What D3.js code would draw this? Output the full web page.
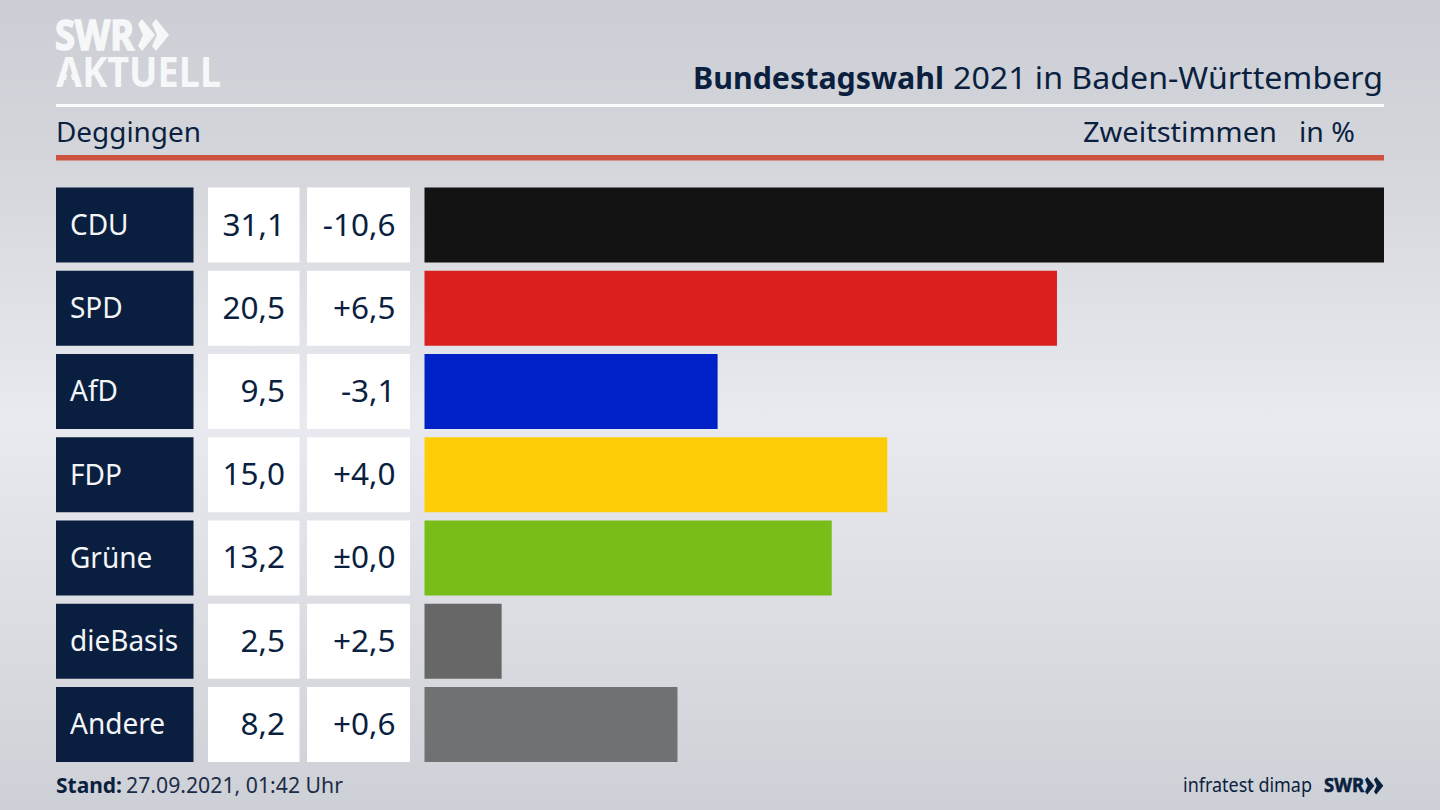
<!DOCTYPE html>
<html>
<head>
<meta charset="utf-8">
<script src="https://cdn.jsdelivr.net/npm/d3@7"></script>
<style>
  html, body { margin: 0; padding: 0; background: #d5d7dd; }
  svg { display: block; }
  text { font-family: "Noto Sans", sans-serif; }
</style>
</head>
<body>
<div id="chart"></div>
<script>
const parties = ["CDU", "SPD", "AfD", "FDP", "Grüne", "dieBasis", "Andere"];
const shares = [31.1, 20.5, 9.5, 15.0, 13.2, 2.5, 8.2];
const changes = ["-10,6", "+6,5", "-3,1", "+4,0", "±0,0", "+2,5", "+0,6"];
const barColors = ["#131313", "#da201f", "#0121c8", "#ffcd08", "#79bd19", "#676767", "#707172"];

const width = 1440, height = 810;
const navy = "#0b1f3f";
const format = d => d.toFixed(1).replace(".", ",");

const svg = d3.select("#chart").append("svg")
    .attr("width", width)
    .attr("height", height)
    .attr("viewBox", [0, 0, width, height]);

// background, lighter in a band across the middle
const grad = svg.append("defs").append("linearGradient")
    .attr("id", "bg")
    .attr("gradientUnits", "userSpaceOnUse")
    .attr("x1", 0).attr("y1", 0).attr("x2", 0).attr("y2", height);
grad.append("stop").attr("offset", "0").attr("stop-color", "#cbced4");
grad.append("stop").attr("offset", "0.2").attr("stop-color", "#d4d6dc");
grad.append("stop").attr("offset", "0.52").attr("stop-color", "#e9eaef");
grad.append("stop").attr("offset", "0.8").attr("stop-color", "#d9dbe0");
grad.append("stop").attr("offset", "1").attr("stop-color", "#cdd0d6");
svg.append("rect").attr("width", width).attr("height", height).attr("fill", "url(#bg)");

const y = d3.scaleBand(parties, [187.5, 762]).paddingInner(0.099);
const x = d3.scaleLinear([0, 31.1], [424.5, 1384]);

// squeeze a text to a share of its natural width
const condense = (sel, k) => sel
    .attr("lengthAdjust", "spacingAndGlyphs")
    .attr("textLength", function() { return this.getComputedTextLength() * k; });

// fit a text to a fixed width
const fit = (sel, w) => sel.attr("textLength", w).attr("lengthAdjust", "spacingAndGlyphs");

// logo
svg.append("text").attr("x", 55).attr("y", 49.5)
    .attr("font-size", 41).attr("font-weight", 700).attr("fill", "#f6f7f8")
    .attr("stroke", "#f6f7f8").attr("stroke-width", 1.5)
    .call(fit, 79).text("SWR");
svg.append("text").attr("x", 56).attr("y", 87)
    .attr("font-size", 41).attr("font-weight", 700).attr("fill", "#f6f7f8")
    .call(fit, 165).text("AKTUELL");
// the logo's A has no crossbar
svg.append("path").attr("d", "M69,69L63.5,88L74.5,88Z").attr("fill", "url(#bg)");

const chevron = (x0, y0, s) =>
  `M${x0},${y0 + 5 * s}L${x0 + 4 * s},${y0}L${x0 + 17 * s},${y0 + 16 * s}L${x0 + 4 * s},${y0 + 32 * s}L${x0},${y0 + 27 * s}L${x0 + 5 * s},${y0 + 16 * s}Z`;
svg.selectAll("path.logo").data([138, 152]).join("path")
    .attr("class", "logo")
    .attr("d", d => chevron(d, 19, 1))
    .attr("fill", "#f6f7f8");

// header
svg.append("text").attr("x", 693).attr("y", 89)
    .attr("font-size", 31).attr("font-weight", 700).attr("fill", navy)
    .call(fit, 251).text("Bundestagswahl");
svg.append("text").attr("x", 953).attr("y", 89)
    .attr("font-size", 31).attr("fill", navy)
    .call(fit, 430).text("2021 in Baden-Württemberg");

svg.append("rect").attr("x", 56).attr("y", 104).attr("width", 1328).attr("height", 3).attr("fill", "#fbfbfc");
svg.append("rect").attr("x", 56).attr("y", 155).attr("width", 1328).attr("height", 5.5).attr("fill", "#cc5340");

svg.append("text").attr("x", 56).attr("y", 142).attr("font-size", 28).attr("fill", navy)
    .call(fit, 145).text("Deggingen");
svg.append("text").attr("x", 1083).attr("y", 142).attr("font-size", 28).attr("fill", navy)
    .call(fit, 194).text("Zweitstimmen");
svg.append("text").attr("x", 1299).attr("y", 142).attr("font-size", 28).attr("fill", navy)
    .call(fit, 56).text("in %");

// rows
const row = svg.append("g").selectAll("g")
  .data(parties)
  .join("g")
    .attr("transform", d => `translate(0,${y(d)})`);

row.append("rect").attr("x", 56).attr("width", 137.5).attr("height", y.bandwidth()).attr("fill", "#0a1f40");
row.append("rect").attr("x", 208).attr("width", 91.5).attr("height", y.bandwidth()).attr("fill", "#ffffff");
row.append("rect").attr("x", 307).attr("width", 103).attr("height", y.bandwidth()).attr("fill", "#ffffff");

row.append("rect")
    .attr("x", x(0))
    .attr("width", (d, i) => x(shares[i]) - x(0))
    .attr("height", y.bandwidth())
    .attr("fill", (d, i) => barColors[i]);

row.append("text")
    .attr("x", 70).attr("y", y.bandwidth() / 2 + 10)
    .attr("font-size", 29).attr("fill", "#f4f5f7")
    .text(d => d)
    .call(condense, 0.965);

row.append("text")
    .attr("x", 285).attr("y", y.bandwidth() / 2 + 10.5)
    .attr("text-anchor", "end").attr("font-size", 31.5).attr("fill", navy)
    .text((d, i) => format(shares[i]));

row.append("text")
    .attr("x", 395.5).attr("y", y.bandwidth() / 2 + 10.5)
    .attr("text-anchor", "end").attr("font-size", 31.5).attr("fill", navy)
    .text((d, i) => changes[i]);

// footer
svg.append("text").attr("x", 56).attr("y", 793).attr("font-size", 22).attr("font-weight", 700).attr("fill", navy)
    .call(fit, 66).text("Stand:");
svg.append("text").attr("x", 126).attr("y", 793).attr("font-size", 22).attr("fill", "#1c2c48")
    .call(fit, 217).text("27.09.2021, 01:42 Uhr");

svg.append("text").attr("x", 1183).attr("y", 792).attr("font-size", 20).attr("fill", navy)
    .call(fit, 129).text("infratest dimap");
svg.append("text").attr("x", 1324).attr("y", 792).attr("font-size", 20).attr("font-weight", 700).attr("fill", navy)
    .attr("stroke", navy).attr("stroke-width", 0.6)
    .call(fit, 40).text("SWR");
svg.selectAll("path.small").data([1365, 1374]).join("path")
    .attr("class", "small")
    .attr("d", d => chevron(d, 777, 0.55))
    .attr("fill", navy);
</script>
</body>
</html>
